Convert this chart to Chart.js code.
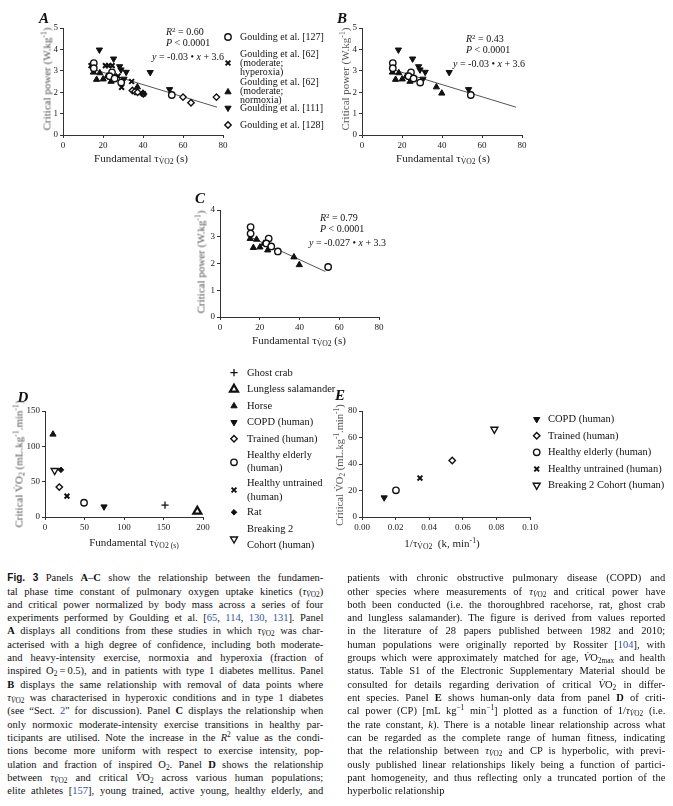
<!DOCTYPE html>
<html>
<head>
<meta charset="utf-8">
<script src="https://cdn.jsdelivr.net/npm/chart.js@4.4.1/dist/chart.umd.min.js"></script>
<style>
body { margin: 0; background: #fff; }
#page { position: relative; width: 673px; height: 806px; overflow: hidden; background: #fff;
  font-family: "Liberation Serif", "Times New Roman", serif; color: #111; }
canvas { position: absolute; }
.t { position: absolute; white-space: nowrap; line-height: 1; transform: translateY(-50%); }
.xt { position: absolute; white-space: nowrap; line-height: 1; transform: translate(-50%, -50%); font-size: 11px; color: #222; }
.yt { position: absolute; white-space: nowrap; line-height: 1; transform: translate(-50%, -50%) rotate(-90deg); font-size: 11px; font-weight: normal; color: #555; }
.lab { position: absolute; font-weight: bold; font-style: italic; font-size: 15px; line-height: 1; transform: translate(-50%, -50%); }
.leg { font-size: 10px; }
.legD { font-size: 10.5px; }
.ann { font-size: 10px; }
sub, sup { font-size: 70%; line-height: 0; }
sub { vertical-align: -0.3em; }
sup { vertical-align: 0.5em; }
.ln { position: absolute; white-space: nowrap; font-size: 10.5px; line-height: 13px; }
.fig { font-family: "Liberation Sans Narrow", "Liberation Sans", sans-serif; font-size: 10px; }
.ref { color: #3152b8; }
</style>
</head>
<body>
<div id="page">
  <canvas id="chartA" width="330" height="170" style="left:0px;top:0px"></canvas>
  <canvas id="chartB" width="250" height="170" style="left:320px;top:0px"></canvas>
  <canvas id="chartC" width="250" height="190" style="left:180px;top:170px"></canvas>
  <canvas id="chartD" width="340" height="190" style="left:0px;top:360px"></canvas>
  <canvas id="chartE" width="343" height="170" style="left:330px;top:380px"></canvas>

  <!-- letras dos paineis -->
  <div class="lab" style="left:44px;top:18px">A</div>
  <div class="lab" style="left:342px;top:18px">B</div>
  <div class="lab" style="left:200px;top:198px">C</div>
  <div class="lab" style="left:23px;top:397px">D</div>
  <div class="lab" style="left:340px;top:395px">E</div>

  <!-- titulos dos eixos -->
  <div class="yt" style="left:47px;top:79px">Critical power (W.kg<sup>-1</sup>)</div>
  <div class="xt" style="left:141px;top:158px">Fundamental τ<sub>V̇O2</sub> (s)</div>
  <div class="yt" style="left:345px;top:79px">Critical power (W.kg<sup>-1</sup>)</div>
  <div class="xt" style="left:443px;top:158px">Fundamental τ<sub>V̇O2</sub> (s)</div>
  <div class="yt" style="left:201px;top:262px">Critical power (W.kg<sup>-1</sup>)</div>
  <div class="xt" style="left:299px;top:340px">Fundamental τ<sub>V̇O2</sub> (s)</div>
  <div class="yt" style="left:19px;top:464px">Critical V̇O<sub>2</sub> (mL.kg<sup>-1</sup>.min<sup>-1</sup>)</div>
  <div class="xt" style="left:134px;top:542px">Fundamental τ<sub>V̇O2 (s)</sub></div>
  <div class="yt" style="left:340px;top:465px;font-size:10.5px">Critical V̇O<sub>2</sub> (mL.kg<sup>-1</sup>.min<sup>-1</sup>)</div>
  <div class="xt" style="left:442px;top:543px">1/τ<sub>V̇O2</sub>&nbsp; (k, min<sup>-1</sup>)</div>

  <!-- anotacoes de regressao -->
  <div class="t ann" style="left:166px;top:32px"><i>R</i><sup>2</sup> = 0.60</div>
  <div class="t ann" style="left:166px;top:43px"><i>P</i> &lt; 0.0001</div>
  <div class="t ann" style="left:152px;top:57px"><i>y</i> = -0.03 • <i>x</i> + 3.6</div>
  <div class="t ann" style="left:466px;top:39px"><i>R</i><sup>2</sup> = 0.43</div>
  <div class="t ann" style="left:466px;top:50px"><i>P</i> &lt; 0.0001</div>
  <div class="t ann" style="left:453px;top:64px"><i>y</i> = -0.03 • <i>x</i> + 3.6</div>
  <div class="t ann" style="left:320px;top:218px"><i>R</i><sup>2</sup> = 0.79</div>
  <div class="t ann" style="left:320px;top:229px"><i>P</i> &lt; 0.0001</div>
  <div class="t ann" style="left:309px;top:243px"><i>y</i> = -0.027 • <i>x</i> + 3.3</div>

  <!-- legenda A -->
  <div class="t leg" style="left:240px;top:37px">Goulding et al. [127]</div>
  <div class="t leg" style="left:240px;top:54px">Goulding et al. [62]</div>
  <div class="t leg" style="left:240px;top:63px">(moderate;</div>
  <div class="t leg" style="left:240px;top:72px">hyperoxia)</div>
  <div class="t leg" style="left:240px;top:82px">Goulding et al. [62]</div>
  <div class="t leg" style="left:240px;top:91px">(moderate;</div>
  <div class="t leg" style="left:240px;top:100px">normoxia)</div>
  <div class="t leg" style="left:240px;top:108px">Goulding et al. [111]</div>
  <div class="t leg" style="left:240px;top:125px">Goulding et al. [128]</div>

  <!-- legenda D -->
  <div class="t legD" style="left:247px;top:373px">Ghost crab</div>
  <div class="t legD" style="left:247px;top:389px">Lungless salamander</div>
  <div class="t legD" style="left:247px;top:406px">Horse</div>
  <div class="t legD" style="left:247px;top:422px">COPD (human)</div>
  <div class="t legD" style="left:247px;top:439px">Trained (human)</div>
  <div class="t legD" style="left:247px;top:455px">Healthy elderly</div>
  <div class="t legD" style="left:247px;top:468px">(human)</div>
  <div class="t legD" style="left:247px;top:483px">Healthy untrained</div>
  <div class="t legD" style="left:247px;top:497px">(human)</div>
  <div class="t legD" style="left:247px;top:512px">Rat</div>
  <div class="t legD" style="left:247px;top:529px">Breaking 2</div>
  <div class="t legD" style="left:247px;top:545px">Cohort (human)</div>

  <!-- legenda E -->
  <div class="t legD" style="left:548px;top:419px">COPD (human)</div>
  <div class="t legD" style="left:548px;top:436px">Trained (human)</div>
  <div class="t legD" style="left:548px;top:452px">Healthy elderly (human)</div>
  <div class="t legD" style="left:548px;top:469px">Healthy untrained (human)</div>
  <div class="t legD" style="left:548px;top:485px">Breaking 2 Cohort (human)</div>
</div>

<script>
// ---- Dados ----
// Paineis A-C: tau fundamental (s) x potencia critica (W/kg)
const g127Tau = [15.4, 15.4, 24.5, 23.3, 25.8, 29.1, 54.4];
const g127CP  = [3.36, 3.12, 2.93, 2.75, 2.64, 2.45, 1.87];
const g62HyperTau = [14.0, 21.2, 22.8, 24.6, 27.5, 29.3, 34.3, 40.2];
const g62HyperCP  = [3.24, 3.24, 3.24, 3.24, 2.75, 2.23, 2.50, 1.92];
const g62NormTau = [15.2, 18.4, 16.8, 20.1, 22.1, 24.0, 37.2, 39.9];
const g62NormCP  = [2.93, 2.90, 2.59, 2.61, 2.75, 2.50, 2.24, 1.95];
const g111Tau = [18.2, 25.3, 28.3, 29.0, 31.6, 43.6, 53.3, 30.5];
const g111CP  = [3.98, 3.56, 3.20, 3.05, 2.94, 2.93, 2.13, 2.62];
const g128Tau = [34.7, 36.0, 37.3, 40.2, 60.0, 64.0, 76.7];
const g128CP  = [2.08, 2.03, 2.00, 1.92, 1.77, 1.51, 1.77];
// retas de regressao (extremos)
const fitABTau = [15, 77];
const fitABCP  = [3.07, 1.30];
const fitCTau = [15, 53];
const fitCCP  = [3.00, 1.70];

// Painel D: tau fundamental (s) x VO2 critico (mL/kg/min)
const speciesD = ['Ghost crab', 'Lungless salamander', 'Horse', 'COPD (human)', 'Trained (human)',
  'Healthy elderly (human)', 'Healthy untrained (human)', 'Rat', 'Breaking 2 Cohort (human)'];
const tauD = [151.9, 192.8, 10.1, 74.7, 18.1, 49.4, 27.8, 20.2, 12.2];
const vo2D = [16.9, 8.0, 117, 14.6, 42.3, 20.2, 29.6, 66.7, 65.8];

// Painel E: 1/tau (k) x VO2 critico, so humanos
const groupsE = ['COPD (human)', 'Trained (human)', 'Healthy elderly (human)', 'Healthy untrained (human)', 'Breaking 2 Cohort (human)'];
const kE   = [0.0132, 0.0537, 0.0202, 0.0345, 0.0788];
const vo2E = [14.6, 42.6, 20.1, 29.4, 66.2];

// ---- Estilos dos marcadores ----
const INK = '#111';
const openCircle = { pointStyle: 'circle', pointRadius: 3.2, pointBorderWidth: 1.4, pointBackgroundColor: '#fff', pointBorderColor: INK };
const boldCross = { pointStyle: 'crossRot', pointRadius: 3.4, pointBorderWidth: 2, pointBackgroundColor: INK, pointBorderColor: INK };
const triUp = { pointStyle: 'triangle', pointRadius: 3.6, pointBorderWidth: 1, pointBackgroundColor: INK, pointBorderColor: INK };
const triDown = { ...triUp, pointRotation: 180 };
const openDiamond = { pointStyle: 'rectRot', pointRadius: 3.2, pointBorderWidth: 1.4, pointBackgroundColor: '#fff', pointBorderColor: INK };
const plusMark = { pointStyle: 'cross', pointRadius: 3.6, pointBorderWidth: 1.3, pointBackgroundColor: INK, pointBorderColor: INK };
const bigTriOpen = { pointStyle: 'triangle', pointRadius: 4.6, pointBorderWidth: 2.2, pointBackgroundColor: '#fff', pointBorderColor: INK };
const triDownOpen = { pointStyle: 'triangle', pointRotation: 180, pointRadius: 4, pointBorderWidth: 1.4, pointBackgroundColor: '#fff', pointBorderColor: INK };
const ratMark = { pointStyle: 'rectRot', pointRadius: 2.8, pointBorderWidth: 1, pointBackgroundColor: INK, pointBorderColor: INK };
const stylesD = [plusMark, bigTriOpen, triUp, triDown, openDiamond, openCircle, boldCross, ratMark, triDownOpen];
const stylesE = [triDown, openDiamond, openCircle, boldCross, triDownOpen];

function pontos(xs, ys) {
  return xs.map((x, i) => ({ x: x, y: ys[i] }));
}

function serie(label, xs, ys, estilo) {
  return { label: label, data: pontos(xs, ys), showLine: false, clip: false, ...estilo };
}

function reta(xs, ys) {
  return { label: 'fit', data: pontos(xs, ys), showLine: true, borderColor: '#555', borderWidth: 1,
    pointRadius: 0, fill: false, clip: false, order: 10 };
}

// desenha os simbolos das legendas feitas em HTML
const keyPlugin = {
  id: 'keyMarks',
  afterDraw(chart, args, opts) {
    const ctx = chart.ctx;
    (opts.marks || []).forEach(m => {
      const d = chart.data.datasets[m.i];
      ctx.save();
      ctx.fillStyle = d.pointBackgroundColor;
      ctx.strokeStyle = d.pointBorderColor;
      ctx.lineWidth = d.pointBorderWidth;
      Chart.helpers.drawPoint(ctx, { pointStyle: d.pointStyle, rotation: d.pointRotation || 0,
        radius: d.pointRadius, borderWidth: d.pointBorderWidth }, m.x, m.y);
      ctx.restore();
    });
  }
};

function eixo(min, max, passo, ajuste, formato) {
  return {
    type: 'linear', min: min, max: max,
    ticks: { stepSize: passo, color: '#222', padding: 2, maxRotation: 0, autoSkip: false,
      font: { family: 'Liberation Serif', size: 9 }, callback: formato || (v => v) },
    grid: { drawOnChartArea: false, drawTicks: true, tickLength: 3, color: '#333', lineWidth: 1 },
    border: { display: true, color: '#333', width: 1 },
    title: { display: false },
    afterFit: ajuste
  };
}

function criarGrafico(id, datasets, pad, escalas, marks) {
  return new Chart(document.getElementById(id), {
    type: 'scatter',
    data: { datasets: datasets },
    options: {
      responsive: false, animation: false, events: [], devicePixelRatio: 1,
      layout: { padding: pad, autoPadding: false },
      plugins: { legend: { display: false }, tooltip: { enabled: false }, keyMarks: { marks: marks } },
      scales: escalas
    },
    plugins: [keyPlugin]
  });
}

const altX = s => { s.height = 16; };
const largY = s => { s.width = 22; };
const largYE = s => { s.width = 20; };

// Painel A
criarGrafico('chartA', [
  serie('Goulding et al. [127]', g127Tau, g127CP, openCircle),
  serie('Goulding et al. [62] (moderate; hyperoxia)', g62HyperTau, g62HyperCP, boldCross),
  serie('Goulding et al. [62] (moderate; normoxia)', g62NormTau, g62NormCP, triUp),
  serie('Goulding et al. [111]', g111Tau, g111CP, triDown),
  serie('Goulding et al. [128]', g128Tau, g128CP, openDiamond),
  reta(fitABTau, fitABCP)
], { left: 41, right: 107, top: 28, bottom: 19 },
  { x: eixo(0, 80, 20, altX), y: eixo(0, 5, 1, largY) },
  [{ i: 0, x: 228, y: 37 }, { i: 1, x: 228, y: 63 }, { i: 2, x: 228, y: 92 }, { i: 3, x: 228, y: 108 }, { i: 4, x: 228, y: 125 }]);

// Painel B
criarGrafico('chartB', [
  serie('Goulding et al. [127]', g127Tau, g127CP, openCircle),
  serie('Goulding et al. [62] (moderate; normoxia)', g62NormTau, g62NormCP, triUp),
  serie('Goulding et al. [111]', g111Tau, g111CP, triDown),
  reta(fitABTau, fitABCP)
], { left: 20, right: 48, top: 28, bottom: 19 },
  { x: eixo(0, 80, 20, altX), y: eixo(0, 5, 1, largY) }, []);

// Painel C
criarGrafico('chartC', [
  serie('Goulding et al. [127]', g127Tau, g127CP, openCircle),
  serie('Goulding et al. [62] (moderate; normoxia)', g62NormTau, g62NormCP, triUp),
  reta(fitCTau, fitCCP)
], { left: 18, right: 51, top: 40, bottom: 27 },
  { x: eixo(0, 80, 20, altX), y: eixo(0, 4, 1, largY) }, []);

// Painel D
criarGrafico('chartD',
  speciesD.map((nome, i) => serie(nome, [tauD[i]], [vo2D[i]], stylesD[i])),
  { left: 23, right: 137, top: 51, bottom: 17 },
  { x: eixo(0, 200, 50, altX), y: eixo(0, 150, 50, largY) },
  [12.7, 29.3, 46, 62.3, 78.7, 102.3, 130, 152.3, 179].map((y, i) => ({ i: i, x: 234, y: y })));

// Painel E
criarGrafico('chartE',
  groupsE.map((nome, i) => serie(nome, [kE[i]], [vo2E[i]], stylesE[i])),
  { left: 12, right: 143, top: 31, bottom: 17 },
  { x: eixo(0, 0.1, 0.02, altX, v => Number(v).toFixed(2)), y: eixo(0, 80, 20, largYE) },
  [39.3, 55.7, 72.3, 89, 105.3].map((y, i) => ({ i: i, x: 206.7, y: y })));

// ---- Legenda da figura (texto justificado linha a linha) ----
const tv = '<i>τ</i><sub><i>V̇</i>O2</sub>';
const ref = n => '<span class="ref">' + n + '</span>';
const linhasEsq = [
  '<b class="fig">Fig. 3</b> Panels <b>A</b>–<b>C</b> show the relationship between the fundamen-',
  'tal phase time constant of pulmonary oxygen uptake kinetics (' + tv + ')',
  'and critical power normalized by body mass across a series of four',
  'experiments performed by Goulding et al. [' + ref(65) + ', ' + ref(114) + ', ' + ref(130) + ', ' + ref(131) + ']. Panel',
  '<b>A</b> displays all conditions from these studies in which ' + tv + ' was char-',
  'acterised with a high degree of confidence, including both moderate-',
  'and heavy-intensity exercise, normoxia and hyperoxia (fraction of',
  'inspired O<sub>2</sub>\u2009=\u20090.5), and in patients with type 1 diabetes mellitus. Panel',
  '<b>B</b> displays the same relationship with removal of data points where',
  tv + ' was characterised in hyperoxic conditions and in type 1 diabetes',
  '(see “Sect. ' + ref(2) + '" for discussion). Panel <b>C</b> displays the relationship when',
  'only normoxic moderate-intensity exercise transitions in healthy par-',
  'ticipants are utilised. Note the increase in the <i>R</i><sup>2</sup> value as the condi-',
  'tions become more uniform with respect to exercise intensity, pop-',
  'ulation and fraction of inspired O<sub>2</sub>. Panel <b>D</b> shows the relationship',
  'between ' + tv + ' and critical <i>V̇</i>O<sub>2</sub> across various human populations;',
  'elite athletes [' + ref(157) + '], young trained, active young, healthy elderly, and'
];
const linhasDir = [
  'patients with chronic obstructive pulmonary disease (COPD) and',
  'other species where measurements of ' + tv + ' and critical power have',
  'both been conducted (i.e. the thoroughbred racehorse, rat, ghost crab',
  'and lungless salamander). The figure is derived from values reported',
  'in the literature of 28 papers published between 1982 and 2010;',
  'human populations were originally reported by Rossiter [' + ref(104) + '], with',
  'groups which were approximately matched for age, <i>V̇</i>O<sub>2max</sub> and health',
  'status. Table S1 of the Electronic Supplementary Material should be',
  'consulted for details regarding derivation of critical <i>V̇</i>O<sub>2</sub> in differ-',
  'ent species. Panel <b>E</b> shows human-only data from panel <b>D</b> of criti-',
  'cal power (CP) [mL kg<sup>−1</sup> min<sup>−1</sup>] plotted as a function of 1/' + tv + ' (i.e.',
  'the rate constant, <i>k</i>). There is a notable linear relationship across what',
  'can be regarded as the complete range of human fitness, indicating',
  'that the relationship between ' + tv + ' and CP is hyperbolic, with previ-',
  'ously published linear relationships likely being a function of partici-',
  'pant homogeneity, and thus reflecting only a truncated portion of the',
  'hyperbolic relationship'
];

function colocarColuna(linhas, esquerda, largura, ultimaSolta) {
  const page = document.getElementById('page');
  linhas.forEach((html, i) => {
    const el = document.createElement('div');
    el.className = 'ln';
    el.innerHTML = html;
    el.style.left = esquerda + 'px';
    el.style.top = (577.7 + 13.31 * i - 6.5) + 'px';
    page.appendChild(el);
    if (ultimaSolta && i === linhas.length - 1) return;
    const natural = el.getBoundingClientRect().width;
    const espacos = (el.textContent.match(/ /g) || []).length;
    if (espacos > 0) el.style.wordSpacing = ((largura - natural) / espacos) + 'px';
  });
}
colocarColuna(linhasEsq, 7.3, 316, false);
colocarColuna(linhasDir, 347.3, 318, true);
</script>
</body>
</html>
